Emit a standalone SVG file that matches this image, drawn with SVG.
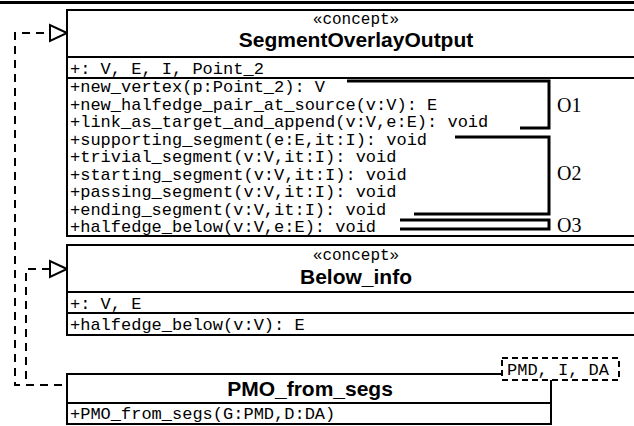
<svg xmlns="http://www.w3.org/2000/svg" width="634" height="426" viewBox="0 0 634 426">
<style>
.box{fill:#fff;stroke:#000;stroke-width:2}
.sep{stroke:#000;stroke-width:2}
.mono{font-family:"Liberation Mono","DejaVu Sans Mono",monospace;font-size:17px;fill:#000}
.ster{font-family:"Liberation Mono","DejaVu Sans Mono",monospace;font-size:16px;fill:#000;text-anchor:middle}
.title{font-family:"Liberation Sans",Arial,sans-serif;font-size:21px;font-weight:bold;fill:#000;text-anchor:middle}
.dash{fill:none;stroke:#000;stroke-width:2;stroke-dasharray:8 6}
.tri{fill:#fff;stroke:#000;stroke-width:2}
.brk{fill:none;stroke:#000;stroke-width:3}
.lbl{font-family:"Liberation Serif","Times New Roman",serif;font-size:20px;fill:#000}
</style>
<rect x="0" y="0" width="634" height="426" fill="#fff"/>
<line x1="0" y1="2.5" x2="634" y2="2.5" stroke="#000" stroke-width="3"/>

<g id="connectors">
  <path class="dash" d="M62,385 H15 V33 H50"/>
  <path class="dash" d="M62,385 H26 V269 H50"/>
  <polygon class="tri" points="67,33 50,25 50,41"/>
  <polygon class="tri" points="67,269 50,261 50,277"/>
</g>

<g id="SegmentOverlayOutput">
  <rect class="box" x="67" y="10" width="580" height="226"/>
  <line class="sep" x1="67" y1="57" x2="647" y2="57"/>
  <line class="sep" x1="67" y1="78" x2="647" y2="78"/>
  <text class="ster" x="356" y="24">«concept»</text>
  <text class="title" x="356" y="47">SegmentOverlayOutput</text>
  <text class="mono" x="70" y="74">+: V, E, I, Point_2</text>
  <text class="mono" x="70" y="92">+new_vertex(p:Point_2): V</text>
  <text class="mono" x="70" y="109.5">+new_halfedge_pair_at_source(v:V): E</text>
  <text class="mono" x="70" y="127">+link_as_target_and_append(v:V,e:E): void</text>
  <text class="mono" x="70" y="144.5">+supporting_segment(e:E,it:I): void</text>
  <text class="mono" x="70" y="162">+trivial_segment(v:V,it:I): void</text>
  <text class="mono" x="70" y="179.5">+starting_segment(v:V,it:I): void</text>
  <text class="mono" x="70" y="197">+passing_segment(v:V,it:I): void</text>
  <text class="mono" x="70" y="214.5">+ending_segment(v:V,it:I): void</text>
  <text class="mono" x="70" y="232">+halfedge_below(v:V,e:E): void</text>
</g>

<g id="groups">
  <path class="brk" d="M347,81 H549 V128 H520"/>
  <text class="lbl" x="557" y="112">O1</text>
  <path class="brk" d="M455,137 H549 V214 H414"/>
  <text class="lbl" x="557" y="180">O2</text>
  <path class="brk" d="M400,220 H549 V229 H400"/>
  <text class="lbl" x="557" y="232">O3</text>
</g>

<g id="Below_info">
  <rect class="box" x="67" y="245" width="580" height="90"/>
  <line class="sep" x1="67" y1="292" x2="647" y2="292"/>
  <line class="sep" x1="67" y1="313" x2="647" y2="313"/>
  <text class="ster" x="356" y="260">«concept»</text>
  <text class="title" x="356" y="284">Below_info</text>
  <text class="mono" x="70" y="309">+: V, E</text>
  <text class="mono" x="70" y="330">+halfedge_below(v:V): E</text>
</g>

<g id="PMO_from_segs">
  <rect class="box" x="67" y="374" width="484" height="50"/>
  <line class="sep" x1="67" y1="403" x2="551" y2="403"/>
  <text class="title" x="310" y="396">PMO_from_segs</text>
  <text class="mono" x="70" y="419">+PMO_from_segs(G:PMD,D:DA)</text>
  <rect x="502" y="358" width="117" height="22" fill="#fff" stroke="#000" stroke-width="2" stroke-dasharray="6 4"/>
  <text class="mono" x="507" y="375">PMD, I, DA</text>
</g>
</svg>
